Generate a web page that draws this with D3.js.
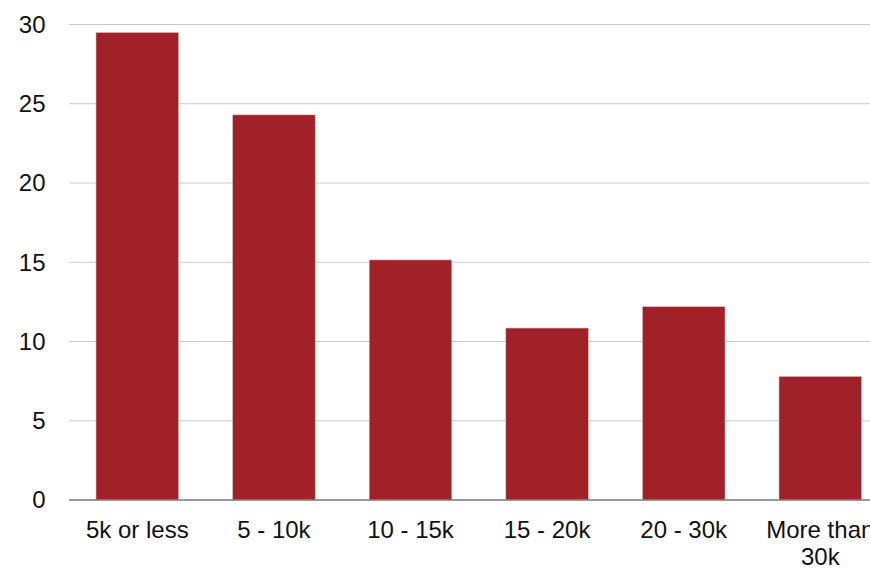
<!DOCTYPE html>
<html><head><meta charset="utf-8">
<script src="https://cdn.jsdelivr.net/npm/d3@7"></script>
<style>body{margin:0;background:#fff}svg{display:block}</style>
</head><body>
<script>
const categories = ["5k or less", "5 - 10k", "10 - 15k", "15 - 20k", "20 - 30k", "More than 30k"];
const values = [29.5, 24.3, 15.15, 10.85, 12.2, 7.8];
const yTicks = [0, 5, 10, 15, 20, 25, 30];

(function () {
const W = 870, H = 568;
const svg = d3.select("body").append("svg").attr("width", W).attr("height", H);
const mLeft = 69, mRight = 888.6, mTop = 24.5, mBottom = 500;
const font = "Liberation Sans, Arial, Helvetica, sans-serif";

const x = d3.scaleBand().domain(categories).range([mLeft, mRight]).paddingInner(0.395).paddingOuter(0.1975);
const y = d3.scaleLinear().domain([0, 30]).range([mBottom, mTop]);

// gridlines
svg.append("g").selectAll("line").data(yTicks.filter(d => d > 0)).join("line")
  .attr("x1", mLeft).attr("x2", W)
  .attr("y1", d => y(d)).attr("y2", d => y(d))
  .attr("stroke", "#c6cacf").attr("stroke-width", 1);

// bars
svg.append("g").selectAll("rect").data(values).join("rect")
  .attr("x", (d, i) => x(categories[i]))
  .attr("width", x.bandwidth())
  .attr("y", d => y(d))
  .attr("height", d => mBottom - y(d))
  .attr("fill", "#a02128")
  .attr("stroke", "#e6c3c5").attr("stroke-width", 0.6);

// baseline
svg.append("line").attr("x1", mLeft).attr("x2", W).attr("y1", mBottom).attr("y2", mBottom)
  .attr("stroke", "#7a7a7a").attr("stroke-width", 1.5);

// y labels
svg.append("g").selectAll("text").data(yTicks).join("text")
  .attr("x", 45.5).attr("y", d => y(d)).attr("dy", "0.35em")
  .attr("text-anchor", "end")
  .style("font-family", font).style("font-size", "24px").attr("fill", "#111")
  .text(d => d);

// x labels
const xl = svg.append("g").selectAll("text").data(categories).join("text")
  .attr("x", d => x(d) + x.bandwidth() / 2).attr("y", 538)
  .attr("text-anchor", "middle")
  .style("font-family", font).style("font-size", "24px").attr("fill", "#111");
xl.each(function(d) {
  const t = d3.select(this);
  const lines = d === "More than 30k" ? ["More than", "30k"] : [d];
  lines.forEach((ln, i) => {
    t.append("tspan").attr("x", x(d) + x.bandwidth() / 2).attr("dy", i === 0 ? 0 : 27).text(ln);
  });
});
})();
</script>
</body></html>
